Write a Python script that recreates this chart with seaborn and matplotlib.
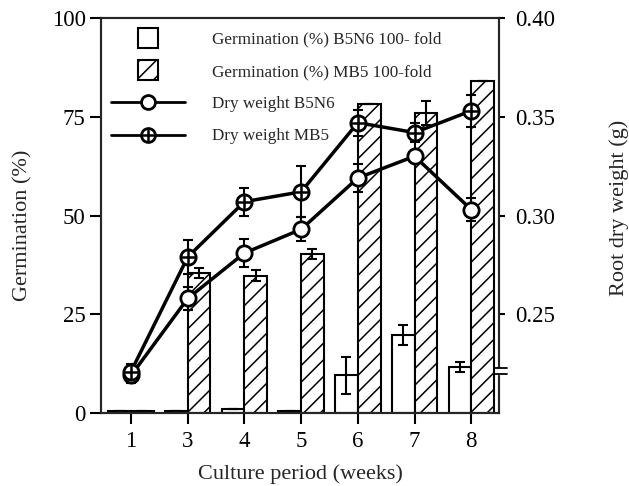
import numpy as np
import pandas as pd
import matplotlib
matplotlib.use('Agg')
import matplotlib.pyplot as plt
import seaborn as sns
from matplotlib.patches import Rectangle
from matplotlib.lines import Line2D
from matplotlib.legend_handler import HandlerPatch, HandlerTuple

weeks = ['1', '3', '4', '5', '6', '7', '8']
germ_b5n6 = [0.6, 0.6, 1.0, 0.6, 9.5, 19.7, 11.6]
germ_b5n6_err = [0, 0, 0, 0, 4.7, 2.5, 1.3]
germ_mb5 = [0.5, 35.5, 34.8, 40.3, 78.2, 75.9, 84.0]
germ_mb5_err = [0, 1.2, 1.5, 1.2, 0, 3.0, 0]
dw_b5n6 = [0.219, 0.258, 0.281, 0.293, 0.319, 0.330, 0.303]
dw_b5n6_err = [0.004, 0.006, 0.007, 0.006, 0.007, 0.003, 0.006]
dw_mb5 = [0.221, 0.279, 0.307, 0.312, 0.347, 0.342, 0.353]
dw_mb5_err = [0.004, 0.0085, 0.007, 0.013, 0.0065, 0.005, 0.008]

labels = ['Germination (%) B5N6 100- fold', 'Germination (%) MB5 100-fold',
          'Dry weight B5N6', 'Dry weight MB5']

sns.set_theme(style='ticks')
plt.rcParams['font.family'] = ['Liberation Serif', 'DejaVu Serif']
plt.rcParams['hatch.linewidth'] = 1.1

fig = plt.figure(figsize=(6.29, 4.86), dpi=100)
ax = fig.add_axes([101/629, 1-413/486, 398/629, 395/486])

df = pd.DataFrame({'week': weeks * 2,
                   'germ': germ_b5n6 + germ_mb5,
                   'series': ['B5N6'] * len(weeks) + ['MB5'] * len(weeks)})
sns.barplot(data=df, x='week', y='germ', hue='series', order=weeks,
            hue_order=['B5N6', 'MB5'], palette=['white', 'white'],
            edgecolor='black', linewidth=1.5, errorbar=None, width=0.8,
            saturation=1, legend=False, ax=ax)
for b in ax.containers[1]:
    b.set_hatch('//')

for cont, err in zip(ax.containers, [germ_b5n6_err, germ_mb5_err]):
    xs = [b.get_x() + b.get_width() / 2 for b in cont]
    ys = [b.get_height() for b in cont]
    ax.errorbar(xs, ys, yerr=err, fmt='none', ecolor='black', elinewidth=1.5,
                capsize=3.5, capthick=1.5, zorder=3)

ax2 = ax.twinx()
xpos = np.arange(len(weeks))
for vals, errs in [(dw_b5n6, dw_b5n6_err), (dw_mb5, dw_mb5_err)]:
    ax2.errorbar(xpos, vals, yerr=errs, fmt='none', ecolor='black',
                 elinewidth=1.5, capsize=3.5, capthick=1.5, zorder=1)
sns.lineplot(x=xpos, y=dw_b5n6, ax=ax2, color='black', lw=2.5, marker='o',
             markersize=11, markerfacecolor='white', markeredgecolor='black',
             markeredgewidth=2, zorder=3)
sns.lineplot(x=xpos, y=dw_mb5, ax=ax2, color='black', lw=2.5, marker='o',
             markersize=11, markerfacecolor='white', markeredgecolor='black',
             markeredgewidth=2, zorder=3)
ax2.plot(xpos, dw_mb5, ls='none', marker='+', markersize=11,
         markeredgewidth=1.8, color='black', zorder=4)

ax.set_xlim(-0.53, 6.49)
ax.set_ylim(0, 100)
ax2.set_ylim(0.20, 0.40)
ax.set_yticks([0, 25, 50, 75, 100])
ax2.set_yticks([0.25, 0.30, 0.35, 0.40])
ax2.set_yticklabels(['0.25', '0.30', '0.35', '0.40'])

for a in (ax, ax2):
    for s in a.spines.values():
        s.set_linewidth(1.5)
        s.set_visible(True)
ax.tick_params(axis='both', direction='out', length=8, width=1.5,
               labelsize=16.5, colors='black', pad=3)
ax.tick_params(axis='x', pad=5)
ax2.tick_params(axis='y', direction='out', length=4.5, width=1.5,
                labelsize=16.5, colors='black', pad=7)

ax.set_xlabel('Culture period (weeks)', fontsize=16, labelpad=9)
ax.set_ylabel('Germination (%)', fontsize=16)
ax2.set_ylabel('Root dry weight (g)', fontsize=16)
ax.yaxis.set_label_coords(-0.173, 0.476)
ax2.yaxis.set_label_coords(1.277, 0.52)

# axis break marks on the right axis
ax2.plot([1.0, 1.0], [0.101, 0.112], transform=ax2.transAxes, color='white',
         lw=2.5, clip_on=False, zorder=5)
for yy in (0.099, 0.114):
    ax2.plot([0.988, 1.02], [yy, yy], transform=ax2.transAxes, color='black',
             lw=1.3, clip_on=False, zorder=6)

def square_patch(legend, orig_handle, xdescent, ydescent, width, height, fontsize):
    s = 14
    cx = width / 2 - xdescent
    cy = height / 2 - ydescent
    return Rectangle((cx - s / 2, cy - s / 2), s, s)

h1 = Rectangle((0, 0), 1, 1, facecolor='white', edgecolor='black', lw=1.5)
h2 = Rectangle((0, 0), 1, 1, facecolor='white', edgecolor='black', lw=1.5, hatch='//')
h3 = Line2D([], [], color='black', lw=2, marker='o', markersize=10,
            markerfacecolor='white', markeredgewidth=2)
h4a = Line2D([], [], color='black', lw=2, marker='o', markersize=10,
             markerfacecolor='white', markeredgewidth=2)
h4b = Line2D([], [], ls='none', marker='+', markersize=10, markeredgewidth=1.8,
             color='black')
leg = ax.legend([h1, h2, h3, (h4a, h4b)], labels, loc='upper left',
                bbox_to_anchor=(-0.013, 1.004), frameon=False, fontsize=12.3,
                handlelength=4.3, handletextpad=1.6, labelspacing=0.95,
                handler_map={Rectangle: HandlerPatch(patch_func=square_patch),
                             tuple: HandlerTuple(ndivide=1, pad=0)})

fig.savefig('out.png', dpi=100)
